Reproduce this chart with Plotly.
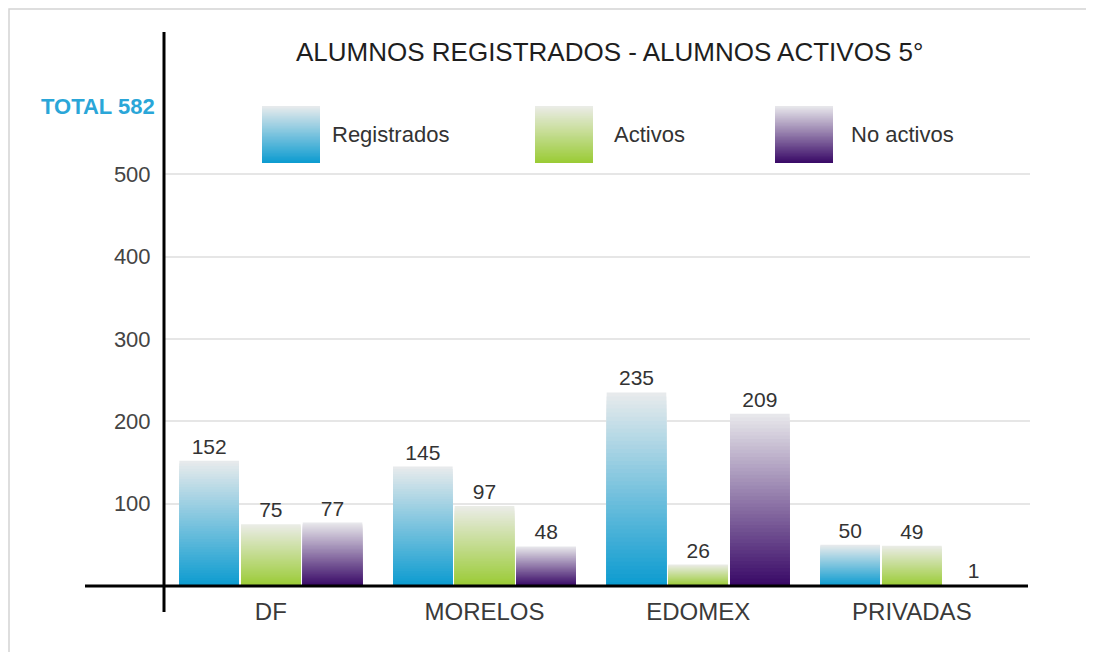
import plotly.graph_objects as go

# ---------------- data ----------------
categories = ["DF", "MORELOS", "EDOMEX", "PRIVADAS"]
registrados = [152, 145, 235, 50]
activos = [75, 97, 26, 49]
no_activos = [77, 48, 209, 1]
series_names = ["Registrados", "Activos", "No activos"]
y_tick_values = [100, 200, 300, 400, 500, 600]
y_tick_labels = ["100", "200", "300", "400", "500", ""]
title_text = "ALUMNOS REGISTRADOS - ALUMNOS ACTIVOS 5°"
total_value = sum(registrados)

# ---------------- style ----------------
FONT = "Liberation Sans, Arial, Helvetica, sans-serif"
W, H = 1094, 652
OFF = 8  # page body margin offset
PLOT_L, PLOT_R, PLOT_T, PLOT_B = 164, 1030, 91, 586  # page-pixel plot area
ML = PLOT_L - OFF
MR = W - (PLOT_R - OFF)
MT = PLOT_T - OFF
MB = H - (PLOT_B - OFF)
PW = PLOT_R - PLOT_L
PH = PLOT_B - PLOT_T

def px(xp):
    return (xp - PLOT_L) / PW

def py(yp):
    return (PLOT_B - yp) / PH

tops = [(233, 235, 236), (235, 236, 232), (233, 233, 236)]
bottoms = [(11, 155, 208), (154, 203, 52), (56, 8, 102)]
N = 48

def lerp(c0, c1, t):
    return "rgb(%d,%d,%d)" % tuple(round(a + (b - a) * t) for a, b in zip(c0, c1))

fig = go.Figure()
series_values = [registrados, activos, no_activos]
for s, (name, vals) in enumerate(zip(series_names, series_values)):
    # gradient: nested bars, lightest (full height) first, darker shorter ones on top
    for k in range(N):
        frac = (N - k) / N
        t = (N - k - 0.5) / N
        fig.add_trace(go.Bar(
            x=categories, y=[v * frac for v in vals], offsetgroup=name,
            marker=dict(color=lerp(bottoms[s], tops[s], t), line=dict(width=0)),
            hoverinfo="skip", showlegend=False))
    fig.add_trace(go.Bar(
        x=categories, y=vals, offsetgroup=name, name=name,
        marker=dict(color="rgba(0,0,0,0)", line=dict(width=0)),
        text=[str(v) for v in vals], textposition="outside",
        textfont=dict(family=FONT, size=21, color="#333333"),
        cliponaxis=False, showlegend=False))

shapes = []
# outer light border (top and left visible)
shapes.append(dict(type="rect", xref="paper", yref="paper",
                   x0=px(9), x1=px(1110), y0=py(9), y1=py(700),
                   line=dict(color="#d4d4d4", width=1.5), fillcolor="rgba(0,0,0,0)", layer="below"))
# axis lines
shapes.append(dict(type="line", xref="paper", yref="paper",
                   x0=px(164), x1=px(164), y0=py(32), y1=py(612),
                   line=dict(color="#000000", width=3), layer="above"))
shapes.append(dict(type="line", xref="paper", yref="paper",
                   x0=px(85), x1=px(1028), y0=py(586), y1=py(586),
                   line=dict(color="#000000", width=3), layer="above"))

# legend swatches (gradient squares) and labels
legend_boxes = [(262, 320), (535, 593), (775, 833)]
legend_text_x = [330, 612, 849]
box_top, box_bot = 106, 163
M = 40
annotations = []
for s, name in enumerate(series_names):
    x0, x1 = legend_boxes[s]
    for k in range(M):
        ytop = box_top + (box_bot - box_top) * k / M
        t = 1 - (k + 0.5) / M
        shapes.append(dict(type="rect", xref="paper", yref="paper",
                           x0=px(x0), x1=px(x1), y0=py(ytop), y1=py(box_bot),
                           line=dict(width=0), fillcolor=lerp(bottoms[s], tops[s], t),
                           layer="above"))
    annotations.append(dict(text=name, xref="paper", yref="paper",
                            x=px(legend_text_x[s]), y=py(134), xanchor="left", yanchor="middle",
                            showarrow=False, font=dict(family=FONT, size=22, color="#333333")))

annotations.append(dict(text=title_text, xref="paper", yref="paper",
                        x=px(609), y=py(52), xanchor="center", yanchor="middle",
                        showarrow=False, font=dict(family=FONT, size=26, color="#1e1e1e")))
annotations.append(dict(text="<b>TOTAL %d</b>" % total_value, xref="paper", yref="y",
                        x=px(157), y=total_value, xanchor="right", yanchor="middle",
                        showarrow=False, font=dict(family=FONT, size=22, color="#2aa6d8")))

fig.update_layout(
    width=W, height=H,
    margin=dict(l=ML, r=MR, t=MT, b=MB, pad=0),
    paper_bgcolor="white", plot_bgcolor="white",
    barmode="group", bargap=0.134, bargroupgap=0.033,
    showlegend=False,
    shapes=shapes, annotations=annotations,
    font=dict(family=FONT, color="#333333"),
)
fig.update_xaxes(
    type="category", range=[-0.5, 3.553], showgrid=False, zeroline=False, showline=False,
    ticks="outside", ticklen=4, tickcolor="rgba(0,0,0,0)",
    tickfont=dict(family=FONT, size=24, color="#3a3a3a"),
)
fig.update_yaxes(
    range=[0, 601], tickvals=y_tick_values, ticktext=y_tick_labels,
    showgrid=True, gridcolor="#e6e6e6", gridwidth=2, zeroline=False, showline=False,
    ticks="outside", ticklen=8, tickcolor="rgba(0,0,0,0)",
    tickfont=dict(family=FONT, size=22, color="#444444"),
)

fig.write_html("out.html")
